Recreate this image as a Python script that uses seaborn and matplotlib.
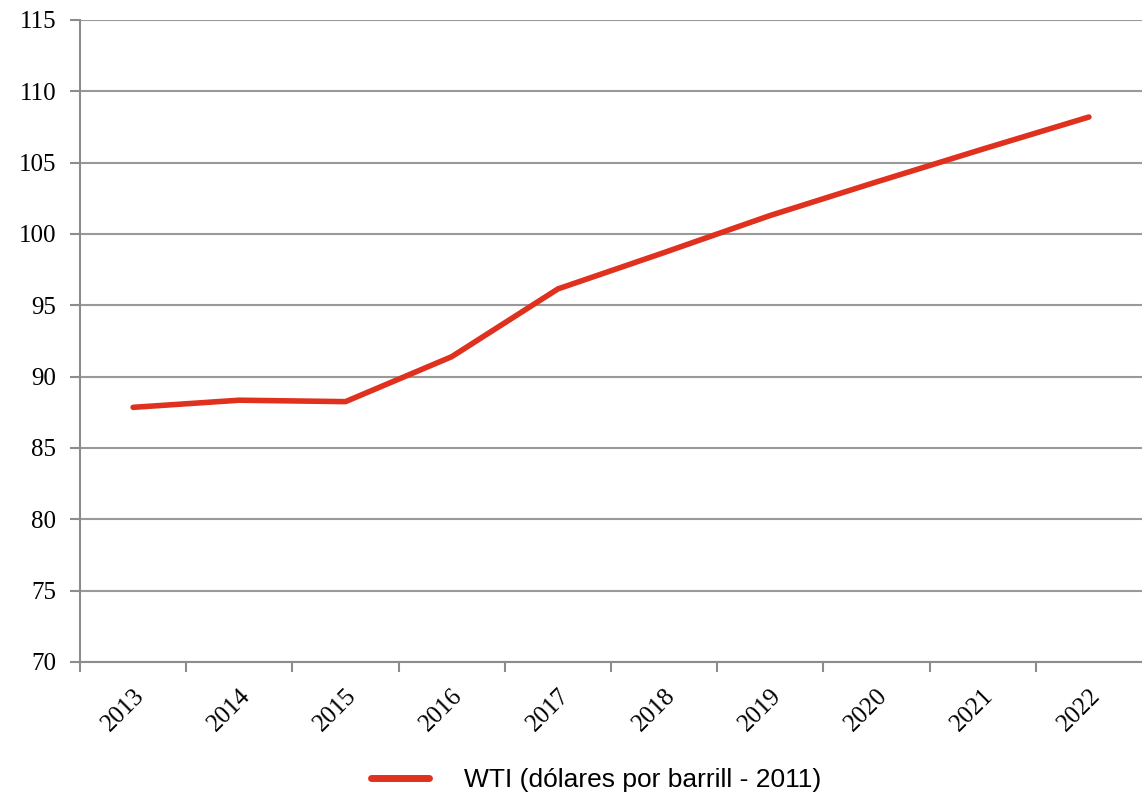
import matplotlib
matplotlib.use('Agg')
import matplotlib.pyplot as plt
import seaborn as sns
import pandas as pd
import numpy as np

# valores
years = ['2013', '2014', '2015', '2016', '2017', '2018', '2019', '2020', '2021', '2022']
wti = [87.85, 88.35, 88.25, 91.4, 96.15, 98.7, 101.3, 103.65, 105.95, 108.2]
label = 'WTI (dólares por barrill - 2011)'

df = pd.DataFrame({'year': years, 'wti': wti})

sns.set_style('white', {'xtick.bottom': True, 'ytick.left': True,
                        'text.color': 'black', 'xtick.color': '#8c8c8c', 'ytick.color': '#8c8c8c'})
plt.rcParams['font.family'] = ['Liberation Serif', 'DejaVu Serif']

fig = plt.figure(figsize=(11.42, 7.97), dpi=100)
ax = fig.add_axes([80 / 1142, 135 / 797, 1 - 80 / 1142, 642 / 797])

sns.lineplot(data=df, x='year', y='wti', color='#e0301e', linewidth=4.0,
             label=label, ax=ax, legend=False)

ax.set_ylim(70, 115)
ax.set_yticks(np.arange(70, 116, 5))
ax.set_xlim(-0.5, len(years) - 0.5)
ax.set_xticks(range(len(years)))
ax.set_xticklabels(years, rotation=45, ha='right', rotation_mode='anchor')
ax.set_xticks(np.arange(-0.5, len(years) - 1, 1), minor=True)
ax.tick_params(axis='x', which='major', bottom=False, length=0, pad=16, labelsize=18,
               labelcolor='black')
ax.tick_params(axis='x', which='minor', bottom=True, length=7, width=1.5,
               color='#8c8c8c', direction='out')
ax.tick_params(axis='y', left=True, length=7, width=1.5, color='#8c8c8c', direction='out',
               labelsize=18, pad=10, labelcolor='black')
ax.grid(axis='y', color='#999999', linewidth=1.5)
ax.set_axisbelow(True)
for s in ['top', 'right']:
    ax.spines[s].set_visible(False)
for s in ['left', 'bottom']:
    ax.spines[s].set_color('#8c8c8c')
    ax.spines[s].set_linewidth(1.5)
ax.set_xlabel('')
ax.set_ylabel('')

handles, labels = ax.get_legend_handles_labels()
leg = fig.legend(handles, labels, loc='center', bbox_to_anchor=(0.522, 0.021), frameon=False,
                 handlelength=2.2, handletextpad=1.3,
                 prop={'family': ['Liberation Sans', 'DejaVu Sans'], 'size': 19})
for t in leg.get_texts():
    t.set_color('black')
for h in leg.legend_handles:
    h.set_linewidth(5)

fig.savefig('out.png', dpi=100)
